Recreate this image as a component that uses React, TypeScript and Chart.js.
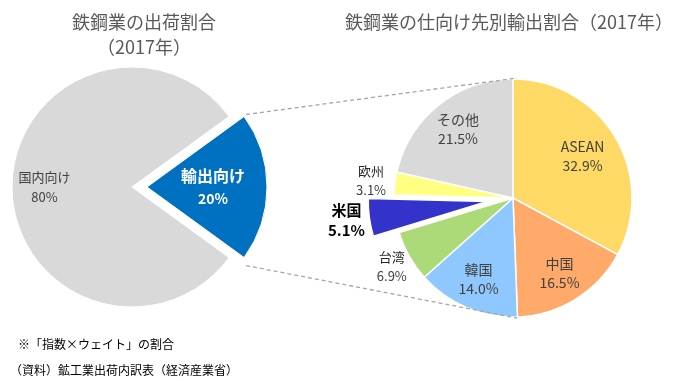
import React, { useEffect, useRef } from "react";
import { Chart, registerables } from "chart.js";

Chart.register(...registerables);

// ---- data ----
const leftLabels = ["輸出向け", "国内向け"];
const leftValues = [20, 80];
const leftColors = ["#0070C0", "#D9D9D9"];

const rightLabels = ["ASEAN", "中国", "韓国", "台湾", "米国", "欧州", "その他"];
const rightValues = [32.9, 16.5, 14.0, 6.9, 5.1, 3.1, 21.5];
const rightColors = ["#FFD966", "#FFAA6B", "#8FC8FF", "#ADDA78", "#3333CC", "#FFFF80", "#D9D9D9"];

const leftTitle = ["鉄鋼業の出荷割合", "（2017年）"];
const rightTitle = "鉄鋼業の仕向け先別輸出割合（2017年）";
const notes = ["※「指数×ウェイト」の割合", "（資料）鉱工業出荷内訳表（経済産業省）"];

const FONT = "'Noto Sans CJK JP', 'Noto Sans', sans-serif";
const W = 673;
const H = 381;

type LabelStyle = {
  outside?: boolean;
  frac?: number;
  gap?: number;
  font1: string;
  font2: string;
  color1: string;
  color2: string;
  lh: number;
};

function explodePlugin(dist: number[]) {
  return {
    id: "explode",
    afterDatasetsUpdate(chart: any) {
      chart.getDatasetMeta(0).data.forEach((arc: any, i: number) => {
        const d = dist[i] || 0;
        if (!d) return;
        const mid = (arc.startAngle + arc.endAngle) / 2;
        arc.x += Math.cos(mid) * d;
        arc.y += Math.sin(mid) * d;
      });
    },
  };
}

function labelPlugin(style: (i: number) => LabelStyle, fmt: (v: number) => string) {
  return {
    id: "sliceLabels",
    afterDatasetsDraw(chart: any) {
      const ctx = chart.ctx;
      const meta = chart.getDatasetMeta(0);
      const ds = chart.data.datasets[0];
      meta.data.forEach((arc: any, i: number) => {
        const st = style(i);
        const mid = (arc.startAngle + arc.endAngle) / 2;
        const d = st.outside ? arc.outerRadius + (st.gap || 0) : (st.frac || 0.7) * arc.outerRadius;
        const cx = arc.x + Math.cos(mid) * d;
        const cy = arc.y + Math.sin(mid) * d;
        ctx.save();
        ctx.textAlign = "center";
        ctx.textBaseline = "middle";
        ctx.font = st.font1;
        ctx.fillStyle = st.color1;
        ctx.fillText(String(chart.data.labels[i]), cx, cy - st.lh / 2);
        ctx.font = st.font2;
        ctx.fillStyle = st.color2;
        ctx.fillText(fmt(ds.data[i]), cx, cy + st.lh / 2);
        ctx.restore();
      });
    },
  };
}

export default function App() {
  const leftRef = useRef<HTMLCanvasElement>(null);
  const rightRef = useRef<HTMLCanvasElement>(null);

  useEffect(() => {
    document.body.style.margin = "0";
    const leftExplode = leftLabels.map((l) => (l === "輸出向け" ? 15 : 0));
    const rightExplode = rightLabels.map((l) => (l === "米国" ? 26 : 0));

    const left = new Chart(leftRef.current!, {
      type: "pie",
      data: {
        labels: leftLabels,
        datasets: [
          {
            data: leftValues,
            backgroundColor: leftColors,
            borderColor: "#FFFFFF",
            borderWidth: 1,
            hoverOffset: 0,
          },
        ],
      },
      options: {
        responsive: false,
        animation: false,
        devicePixelRatio: 1,
        rotation: 54,
        radius: 120,
        layout: { padding: { left: 0, top: 0, right: W - 264, bottom: H - 374 } },
        plugins: { legend: { display: false }, tooltip: { enabled: false } },
        events: [],
      } as any,
      plugins: [
        explodePlugin(leftExplode),
        labelPlugin(
          (i) =>
            leftLabels[i] === "輸出向け"
              ? {
                  frac: 0.55,
                  font1: `bold 16px ${FONT}`,
                  font2: `bold 14px ${FONT}`,
                  color1: "#FFFFFF",
                  color2: "#FFFFFF",
                  lh: 23,
                }
              : {
                  frac: 0.73,
                  font1: `13px ${FONT}`,
                  font2: `13px ${FONT}`,
                  color1: "#404040",
                  color2: "#404040",
                  lh: 20,
                },
          (v) => `${v}%`
        ),
      ],
    });

    const connectors = {
      id: "connectors",
      afterDraw(chart: any) {
        const la: any = left.getDatasetMeta(0).data[0];
        const ra: any = chart.getDatasetMeta(0).data[0];
        if (!la || !ra) return;
        const r = la.outerRadius;
        const tx = la.x + Math.cos(la.startAngle) * r + 2;
        const ty = la.y + Math.sin(la.startAngle) * r - 2;
        const bx = la.x + Math.cos(la.endAngle) * r + 2;
        const by = la.y + Math.sin(la.endAngle) * r + 8;
        const ctx = chart.ctx;
        ctx.save();
        ctx.strokeStyle = "#A6A6A6";
        ctx.lineWidth = 1.3;
        ctx.setLineDash([4, 3]);
        ctx.beginPath();
        ctx.moveTo(tx, ty);
        ctx.lineTo(ra.x + 4, ra.y - ra.outerRadius - 1);
        ctx.moveTo(bx, by);
        ctx.lineTo(ra.x + 4, ra.y + ra.outerRadius + 1);
        ctx.stroke();
        ctx.restore();
      },
    };

    const right = new Chart(rightRef.current!, {
      type: "pie",
      data: {
        labels: rightLabels,
        datasets: [
          {
            data: rightValues,
            backgroundColor: rightColors,
            borderColor: "#FFFFFF",
            borderWidth: 1.5,
            hoverOffset: 0,
          },
        ],
      },
      options: {
        responsive: false,
        animation: false,
        devicePixelRatio: 1,
        rotation: 0,
        radius: 119,
        layout: { padding: { left: 2 * 513 - W, top: 2 * 198 - H, right: 0, bottom: 0 } },
        plugins: { legend: { display: false }, tooltip: { enabled: false } },
        events: [],
      } as any,
      plugins: [
        explodePlugin(rightExplode),
        connectors,
        labelPlugin(
          (i) => {
            const l = rightLabels[i];
            if (l === "米国")
              return {
                outside: true,
                gap: 23,
                font1: `bold 15px ${FONT}`,
                font2: `bold 15px ${FONT}`,
                color1: "#000000",
                color2: "#000000",
                lh: 20,
              };
            if (l === "台湾" || l === "欧州")
              return {
                outside: true,
                gap: l === "台湾" ? 20 : 24,
                font1: `13px ${FONT}`,
                font2: `13px ${FONT}`,
                color1: "#262626",
                color2: "#404040",
                lh: 19,
              };
            return {
              frac: l === "ASEAN" ? 0.68 : 0.74,
              font1: `14px ${FONT}`,
              font2: `14px ${FONT}`,
              color1: "#404040",
              color2: "#404040",
              lh: 19,
            };
          },
          (v) => `${v.toFixed(1)}%`
        ),
      ],
    });

    return () => {
      right.destroy();
      left.destroy();
    };
  }, []);

  const abs: React.CSSProperties = { position: "absolute", left: 0, top: 0 };
  return (
    <div style={{ position: "absolute", left: 0, top: 0, width: W, height: H, background: "#fff", fontFamily: FONT }}>
      <canvas ref={leftRef} width={W} height={H} style={abs} />
      <canvas ref={rightRef} width={W} height={H} style={abs} />
      <div style={{ position: "absolute", left: 0, top: 9, width: 288, textAlign: "center", fontSize: 18, lineHeight: "24px", color: "#595959", whiteSpace: "nowrap" }}>
        {leftTitle[0]}
      </div>
      <div style={{ position: "absolute", left: 0, top: 34, width: 288, textAlign: "center", fontSize: 18, lineHeight: "24px", color: "#595959", whiteSpace: "nowrap" }}>
        {leftTitle[1]}
      </div>
      <div style={{ position: "absolute", left: 309, top: 9, width: 400, textAlign: "center", fontSize: 18, lineHeight: "24px", color: "#595959", whiteSpace: "nowrap" }}>
        {rightTitle}
      </div>
      <div style={{ position: "absolute", left: 18, top: 336, fontSize: 12, lineHeight: "16px", color: "#000", whiteSpace: "nowrap" }}>
        {notes[0]}
      </div>
      <div style={{ position: "absolute", left: 10, top: 362, fontSize: 12, lineHeight: "16px", color: "#000", whiteSpace: "nowrap" }}>
        {notes[1]}
      </div>
    </div>
  );
}
